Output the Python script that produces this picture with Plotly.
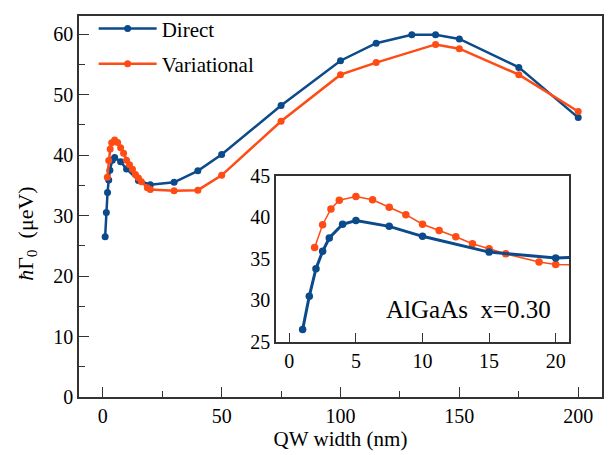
import plotly.graph_objects as go

# ---- data ----
direct_x = [1, 1.5, 2, 2.5, 3, 4, 5, 7.5, 10, 15, 20, 30, 40, 50, 75, 100, 115, 130, 140, 150, 175, 200]
direct_y = [26.5, 30.5, 33.8, 35.9, 37.5, 39.15, 39.6, 38.9, 37.7, 35.8, 35.1, 35.5, 37.4, 40.1, 48.2, 55.6, 58.5, 59.9, 59.9, 59.2, 54.5, 46.2]
var_x = [1.9, 2.5, 3.125, 3.75, 5, 6.25, 7.5, 8.75, 10, 11.25, 12.5, 13.75, 15, 16.25, 18.75, 20, 30, 40, 50, 75, 100, 115, 140, 150, 175, 200]
var_y = [36.35, 39.1, 41.0, 42.05, 42.5, 42.1, 41.2, 40.3, 39.15, 38.4, 37.65, 36.8, 36.2, 35.6, 34.6, 34.3, 34.1, 34.2, 36.65, 45.6, 53.3, 55.3, 58.3, 57.6, 53.3, 47.2]
series_names = ["Direct", "Variational"]
main_xticks = [0, 50, 100, 150, 200]
main_yticks = [0, 10, 20, 30, 40, 50, 60]
inset_xticks = [0, 5, 10, 15, 20]
inset_yticks = [25, 30, 35, 40, 45]

BLUE = "#0B4A8B"
ORANGE = "#FF4B14"
FONT = "Liberation Serif"
FRAME = "#333333"

fig = go.Figure()

# main traces
fig.add_trace(go.Scatter(x=direct_x, y=direct_y, mode="lines+markers", name=series_names[0],
                         line=dict(color=BLUE, width=2.5), marker=dict(color=BLUE, size=7),
                         xaxis="x", yaxis="y", legendgroup="a"))
fig.add_trace(go.Scatter(x=var_x, y=var_y, mode="lines+markers", name=series_names[1],
                         line=dict(color=ORANGE, width=2.5), marker=dict(color=ORANGE, size=7),
                         xaxis="x", yaxis="y", legendgroup="b"))
# inset traces
fig.add_trace(go.Scatter(x=var_x, y=var_y, mode="lines+markers", showlegend=False,
                         line=dict(color=ORANGE, width=1.5), marker=dict(color=ORANGE, size=7.5),
                         xaxis="x2", yaxis="y2"))
fig.add_trace(go.Scatter(x=direct_x, y=direct_y, mode="lines+markers", showlegend=False,
                         line=dict(color=BLUE, width=3), marker=dict(color=BLUE, size=7.5),
                         xaxis="x2", yaxis="y2"))

axis_common = dict(showline=True, mirror=True, linecolor=FRAME, linewidth=1.5,
                   showgrid=False, zeroline=False, tickfont=dict(family=FONT, size=20, color="black"))

fig.update_layout(
    width=616, height=455,
    margin=dict(l=79, r=14, t=5, b=58),
    paper_bgcolor="white", plot_bgcolor="white",
    font=dict(family=FONT, size=20, color="black"),
    xaxis=dict(domain=[0, 1], range=[-10, 210], tickvals=main_xticks, ticks="inside", ticklen=10,
               tickcolor=FRAME, tickwidth=1.2,
               minor=dict(dtick=25, tick0=0, ticks="inside", ticklen=6, tickcolor=FRAME, tickwidth=1.2),
               title=dict(text="QW width (nm)", font=dict(family=FONT, size=21), standoff=4),
               anchor="y", **axis_common),
    yaxis=dict(domain=[0, 1], range=[0, 63], tickvals=main_yticks, ticks="inside", ticklen=10,
               tickcolor=FRAME, tickwidth=1.2,
               minor=dict(dtick=5, tick0=0, ticks="inside", ticklen=6, tickcolor=FRAME, tickwidth=1.2),
               anchor="x", **axis_common),
    xaxis2=dict(domain=[0.3767, 0.9369], range=[-1, 21], tickvals=inset_xticks, ticks="inside",
                ticklen=9, tickcolor=FRAME, tickwidth=1.2, anchor="y2", **axis_common),
    yaxis2=dict(domain=[0.1446, 0.581], range=[25, 45], tickvals=inset_yticks, ticks="",
                anchor="x2", **axis_common),
    legend=dict(x=0.028, y=1.02, xanchor="left", yanchor="top", bgcolor="rgba(0,0,0,0)",
                font=dict(family=FONT, size=21), traceorder="grouped", tracegroupgap=5,
                itemwidth=58),
    showlegend=True,
    annotations=[
        dict(text="<i>ħ</i>Γ<sub>0</sub>  (μeV)", xref="paper", yref="paper",
             x=-0.1, y=0.43, xanchor="center", yanchor="middle", textangle=-90,
             showarrow=False, font=dict(family=FONT, size=22)),
        dict(text="AlGaAs  x=0.30", xref="x2", yref="y2", x=19.8, y=28.9,
             xanchor="right", yanchor="middle", showarrow=False, font=dict(family=FONT, size=25)),
    ],
)

fig.write_html("out.html")
